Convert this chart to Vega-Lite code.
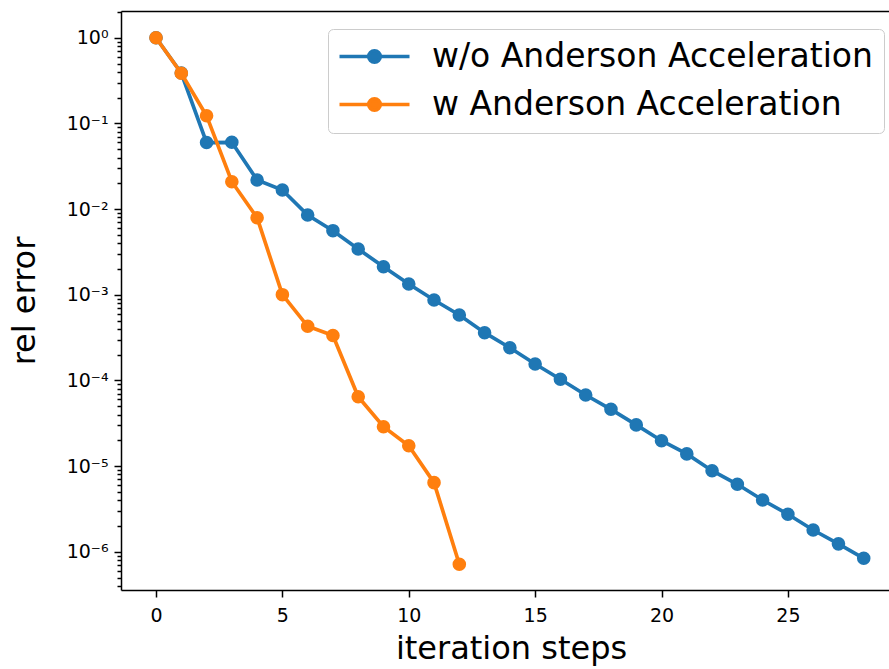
{
  "$schema": "https://vega.github.io/schema/vega-lite/v6.json",
  "autosize": {"type": "none"},
  "width": 768,
  "height": 579,
  "padding": {"left": 121, "top": 11, "right": 0, "bottom": 79},
  "background": "white",
  "config": {
    "view": {"stroke": null},
    "font": "DejaVu Sans",
    "axis": {"grid": false, "domainColor": "black", "domainWidth": 1.5, "tickColor": "black", "tickWidth": 1.5, "labelColor": "black", "titleColor": "black", "labelFont": "DejaVu Sans", "titleFont": "DejaVu Sans", "titleFontWeight": "normal"}
  },
  "data": {
    "values": [
      {"step": 0, "err": 1.0, "series": "w/o Anderson Acceleration"},
      {"step": 1, "err": 0.387, "series": "w/o Anderson Acceleration"},
      {"step": 2, "err": 0.0598, "series": "w/o Anderson Acceleration"},
      {"step": 3, "err": 0.0602, "series": "w/o Anderson Acceleration"},
      {"step": 4, "err": 0.02186, "series": "w/o Anderson Acceleration"},
      {"step": 5, "err": 0.01671, "series": "w/o Anderson Acceleration"},
      {"step": 6, "err": 0.00853, "series": "w/o Anderson Acceleration"},
      {"step": 7, "err": 0.0056, "series": "w/o Anderson Acceleration"},
      {"step": 8, "err": 0.00342, "series": "w/o Anderson Acceleration"},
      {"step": 9, "err": 0.002127, "series": "w/o Anderson Acceleration"},
      {"step": 10, "err": 0.001337, "series": "w/o Anderson Acceleration"},
      {"step": 11, "err": 0.000869, "series": "w/o Anderson Acceleration"},
      {"step": 12, "err": 0.000581, "series": "w/o Anderson Acceleration"},
      {"step": 13, "err": 0.000361, "series": "w/o Anderson Acceleration"},
      {"step": 14, "err": 0.000241, "series": "w/o Anderson Acceleration"},
      {"step": 15, "err": 0.0001558, "series": "w/o Anderson Acceleration"},
      {"step": 16, "err": 0.0001033, "series": "w/o Anderson Acceleration"},
      {"step": 17, "err": 6.77e-5, "series": "w/o Anderson Acceleration"},
      {"step": 18, "err": 4.61e-5, "series": "w/o Anderson Acceleration"},
      {"step": 19, "err": 3.03e-5, "series": "w/o Anderson Acceleration"},
      {"step": 20, "err": 1.98e-5, "series": "w/o Anderson Acceleration"},
      {"step": 21, "err": 1.39e-5, "series": "w/o Anderson Acceleration"},
      {"step": 22, "err": 8.86e-6, "series": "w/o Anderson Acceleration"},
      {"step": 23, "err": 6.15e-6, "series": "w/o Anderson Acceleration"},
      {"step": 24, "err": 4.03e-6, "series": "w/o Anderson Acceleration"},
      {"step": 25, "err": 2.75e-6, "series": "w/o Anderson Acceleration"},
      {"step": 26, "err": 1.8e-6, "series": "w/o Anderson Acceleration"},
      {"step": 27, "err": 1.24e-6, "series": "w/o Anderson Acceleration"},
      {"step": 28, "err": 8.42e-7, "series": "w/o Anderson Acceleration"},
      {"step": 0, "err": 1.0, "series": "w Anderson Acceleration"},
      {"step": 1, "err": 0.385, "series": "w Anderson Acceleration"},
      {"step": 2, "err": 0.123, "series": "w Anderson Acceleration"},
      {"step": 3, "err": 0.02088, "series": "w Anderson Acceleration"},
      {"step": 4, "err": 0.00794, "series": "w Anderson Acceleration"},
      {"step": 5, "err": 0.001003, "series": "w Anderson Acceleration"},
      {"step": 6, "err": 0.000429, "series": "w Anderson Acceleration"},
      {"step": 7, "err": 0.000335, "series": "w Anderson Acceleration"},
      {"step": 8, "err": 6.47e-5, "series": "w Anderson Acceleration"},
      {"step": 9, "err": 2.89e-5, "series": "w Anderson Acceleration"},
      {"step": 10, "err": 1.73e-5, "series": "w Anderson Acceleration"},
      {"step": 11, "err": 6.42e-6, "series": "w Anderson Acceleration"},
      {"step": 12, "err": 7.17e-7, "series": "w Anderson Acceleration"}
    ]
  },
  "resolve": {"axis": {"x": "independent"}},
  "layer": [
    {
      "transform": [{"filter": "datum.series === 'w/o Anderson Acceleration'"}],
      "mark": {"type": "line", "strokeWidth": 3.7, "point": {"filled": true, "size": 185, "opacity": 1}},
      "encoding": {
        "x": {
          "field": "step", "type": "quantitative",
          "scale": {"domain": [-1.385, 29.0], "nice": false, "zero": false},
          "axis": {"orient": "bottom", "values": [0, 5, 10, 15, 20, 25], "title": "iteration steps", "titleFontSize": 32, "labelFontSize": 19, "tickSize": 7, "labelPadding": 9, "titleX": 390, "titleY": 68, "titleBaseline": "alphabetic", "titleAnchor": "middle", "titleAlign": "center", "labelFlush": false}
        },
        "y": {
          "field": "err", "type": "quantitative",
          "scale": {"type": "log", "domain": [3.59e-7, 2.05], "nice": false},
          "axis": {
            "title": "rel error", "titleFontSize": 32, "labelFontSize": 19,
            "titleX": -87, "titleBaseline": "alphabetic", "titleAngle": -90,
            "values": [4e-7, 5e-7, 6e-7, 7e-7, 8e-7, 9e-7,
                       1e-6, 2e-6, 3e-6, 4e-6, 5e-6, 6e-6, 7e-6, 8e-6, 9e-6,
                       1e-5, 2e-5, 3e-5, 4e-5, 5e-5, 6e-5, 7e-5, 8e-5, 9e-5,
                       1e-4, 2e-4, 3e-4, 4e-4, 5e-4, 6e-4, 7e-4, 8e-4, 9e-4,
                       1e-3, 2e-3, 3e-3, 4e-3, 5e-3, 6e-3, 7e-3, 8e-3, 9e-3,
                       1e-2, 2e-2, 3e-2, 4e-2, 5e-2, 6e-2, 7e-2, 8e-2, 9e-2,
                       1e-1, 2e-1, 3e-1, 4e-1, 5e-1, 6e-1, 7e-1, 8e-1, 9e-1,
                       1, 2],
            "labelExpr": "abs(log(datum.value)/LN10 - round(log(datum.value)/LN10)) < 1e-6 ? '10' + (round(log(datum.value)/LN10) < 0 ? '⁻' : '') + ['⁰','¹','²','³','⁴','⁵','⁶','⁷','⁸','⁹'][abs(round(log(datum.value)/LN10))] : ''",
            "tickSize": {"condition": {"test": "abs(log(datum.value)/LN10 - round(log(datum.value)/LN10)) < 1e-6", "value": 7}, "value": 4},
            "labelPadding": 6,
            "labelFlush": false,
            "labelOverlap": false
          }
        },
        "color": {
          "field": "series", "type": "nominal",
          "scale": {"domain": ["w/o Anderson Acceleration", "w Anderson Acceleration"], "range": ["#1f77b4", "#ff7f0e"]},
          "legend": {
            "title": null,
            "orient": "none",
            "legendX": 207,
            "legendY": 18,
            "direction": "vertical",
            "symbolType": "M-1.6,0L5.4,0M1.325,0A0.575,0.575,0,1,1,2.475,0A0.575,0.575,0,1,1,1.325,0Z",
            "symbolSize": 400,
            "symbolStrokeWidth": 3.7,
            "labelFontSize": 33,
            "labelFont": "DejaVu Sans",
            "labelColor": "black",
            "labelLimit": 700,
            "labelOffset": 60,
            "rowPadding": 14,
            "padding": 11,
            "strokeColor": "#cccccc",
            "fillColor": "white",
            "cornerRadius": 5,
            "encode": {
              "symbols": {"update": {
                "fill": {"signal": "scale('color', datum.value)"},
                "stroke": {"signal": "scale('color', datum.value)"},
                "strokeWidth": {"value": 3.7},
                "opacity": {"value": 1}
              }}
            }
          }
        }
      }
    },
    {
      "transform": [{"filter": "datum.series === 'w Anderson Acceleration'"}],
      "mark": {"type": "line", "strokeWidth": 3.7, "point": {"filled": true, "size": 185, "opacity": 1}},
      "encoding": {
        "x": {
          "field": "step", "type": "quantitative",
          "axis": {"orient": "top", "labels": false, "ticks": false, "title": null, "domainColor": "black", "domainWidth": 1.5}
        },
        "y": {"field": "err", "type": "quantitative"},
        "color": {"field": "series", "type": "nominal"}
      }
    }
  ]
}
